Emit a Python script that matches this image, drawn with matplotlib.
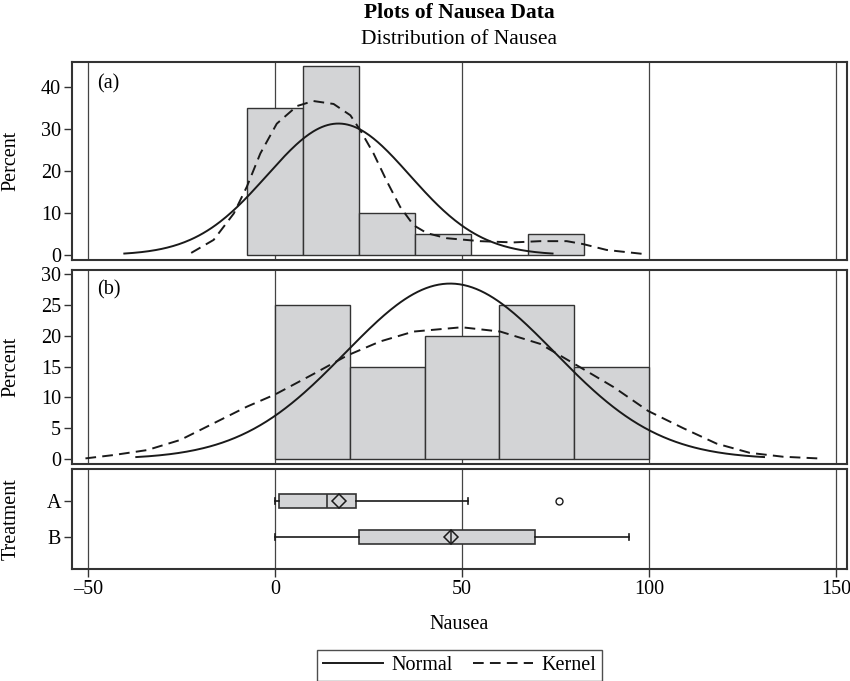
import matplotlib

matplotlib.use("Agg")
import matplotlib.pyplot as plt
import numpy as np
from matplotlib.lines import Line2D

plt.rcParams["font.family"] = "serif"
plt.rcParams["font.serif"] = ["Liberation Serif", "DejaVu Serif"]
plt.rcParams["font.size"] = 14.5

# histogram of treatment A (bin width 15)
a_mids = [0, 15, 30, 45, 60, 75]
a_pct = [35, 45, 10, 5, 0, 5]
a_mean, a_sd = 16.9, 19.1
a_kern_x = [-22.5, -16.5, -11.1, -7.6, -4.0, 0.4, 5.8, 10.2, 15.6, 20.1, 22.7, 26.3,
            29.9, 33.4, 37.0, 40.6, 45.9, 54.8, 63.7, 70.9, 78.0, 82.4, 88.7, 98.5]
a_kern_y = [0.5, 3.6, 9.9, 16.3, 24.2, 31.3, 35.5, 36.7, 36.0, 33.3, 29.8, 24.2,
            17.5, 11.5, 7.1, 5.2, 4.0, 3.3, 3.0, 3.3, 3.3, 2.6, 1.2, 0.25]

# histogram of treatment B (bin width 20)
b_mids = [10, 30, 50, 70, 90]
b_pct = [25, 15, 20, 25, 15]
b_mean, b_sd = 46.8, 28.0
b_kern_x = [-50.8, -43.2, -34.3, -25.4, -16.5, -7.6, 0.0, 10.2, 19.2, 28.1, 37.0,
            49.9, 60.2, 70.9, 81.6, 90.5, 99.8, 109.2, 118.1, 127.0, 135.9, 145.2]
b_kern_y = [0.1, 0.65, 1.45, 3.1, 5.8, 8.5, 10.5, 13.8, 16.8, 19.1, 20.7,
            21.4, 20.7, 18.7, 14.9, 11.7, 7.8, 5.0, 2.5, 1.0, 0.37, 0.1]

# box plot summaries
groups = ["A", "B"]
box_stats = [
    dict(whislo=0.0, q1=1.0, med=13.8, q3=21.6, whishi=51.6, mean=17.0, fliers=[75.8]),
    dict(whislo=0.0, q1=22.5, med=47.0, q3=69.4, whishi=94.6, mean=47.0, fliers=[]),
]

xticks = [-50, 0, 50, 100, 150]

BAR = "#d3d4d6"
EDGE = "#333333"
INK = "#1a1a1a"
DASH = (0, (5.5, 3.2))

fig = plt.figure(figsize=(8.5, 6.81), dpi=100)
L, W = 72 / 850, 775 / 850
ax_a = fig.add_axes([L, 421 / 681, W, 198 / 681])
ax_b = fig.add_axes([L, 217 / 681, W, 194 / 681])
ax_c = fig.add_axes([L, 112 / 681, W, 100 / 681])


def normal_curve(mean, sd, width):
    x = np.linspace(mean - 3 * sd, mean + 3 * sd, 300)
    return x, 100 * width * np.exp(-0.5 * ((x - mean) / sd) ** 2) / (sd * np.sqrt(2 * np.pi))


for ax in (ax_a, ax_b, ax_c):
    ax.set_xlim(-54.4, 153.0)
    for gx in xticks:
        ax.axvline(gx, color="#444444", lw=0.9, zorder=0)
    for s in ax.spines.values():
        s.set_linewidth(1.5)
        s.set_color("#333333")
    ax.tick_params(direction="out", length=6, width=1, color="#333333", pad=2)
    ax.set_xticks(xticks)

ax_a.bar(a_mids, a_pct, width=15, color=BAR, edgecolor=EDGE, lw=1, zorder=2)
xs, ys = normal_curve(a_mean, a_sd, 15)
ax_a.plot(xs, ys, color=INK, lw=1.4, zorder=3)
ax_a.plot(a_kern_x, a_kern_y, color=INK, lw=1.4, ls=DASH, zorder=3)
ax_a.set_ylim(-1.19, 46.0)
ax_a.set_yticks([0, 10, 20, 30, 40])
ax_a.text(0.032, 0.94, "(a)", transform=ax_a.transAxes, va="top", ha="left")

ax_b.bar(b_mids, b_pct, width=20, color=BAR, edgecolor=EDGE, lw=1, zorder=2)
xs, ys = normal_curve(b_mean, b_sd, 20)
ax_b.plot(xs, ys, color=INK, lw=1.4, zorder=3)
ax_b.plot(b_kern_x, b_kern_y, color=INK, lw=1.4, ls=DASH, zorder=3)
ax_b.set_ylim(-0.81, 30.7)
ax_b.set_yticks([0, 5, 10, 15, 20, 25, 30])
ax_b.text(0.032, 0.945, "(b)", transform=ax_b.transAxes, va="top", ha="left")

for ax in (ax_a, ax_b):
    ax.set_ylabel("Percent")
    ax.tick_params(axis="x", bottom=False, labelbottom=False)

ax_c.bxp(box_stats, positions=[0, 1], orientation="horizontal", widths=0.4,
         patch_artist=True, showmeans=True, capwidths=0.17,
         boxprops=dict(facecolor=BAR, edgecolor=EDGE, lw=1.2),
         medianprops=dict(color=EDGE, lw=1.2),
         whiskerprops=dict(color=INK, lw=1.2),
         capprops=dict(color=INK, lw=1.2),
         meanprops=dict(marker="D", markersize=7, markerfacecolor="none",
                        markeredgecolor=INK, markeredgewidth=1.1),
         flierprops=dict(marker="o", markersize=5, markerfacecolor="none",
                         markeredgecolor=INK, markeredgewidth=1))
ax_c.set_yticks([0, 1])
ax_c.set_yticklabels(groups)
ax_c.set_ylim(1.9, -0.9)
ax_c.set_xticks(xticks)
ax_c.set_xticklabels(["\u201350", "0", "50", "100", "150"])
ax_c.set_ylabel("Treatment")
ax_c.set_xlabel("Nausea")
ax_c.xaxis.set_label_coords(0.5, -0.46)

for ax in (ax_a, ax_b, ax_c):
    ax.yaxis.set_label_coords(-0.066, 0.5)

cx = (72 + 775 / 2) / 850
fig.text(cx, 1 - 13 / 681, "Plots of Nausea Data", ha="center", va="center",
         fontweight="bold", fontsize=15.5)
fig.text(cx, 1 - 39 / 681, "Distribution of Nausea", ha="center", va="center",
         fontsize=15.5)

handles = [Line2D([], [], color=INK, lw=1.4),
           Line2D([], [], color=INK, lw=1.4, ls=DASH)]
leg = fig.legend(handles, ["Normal", "Kernel"], loc="lower center",
                 bbox_to_anchor=(cx, 0.0), ncol=2, frameon=True, fancybox=False,
                 edgecolor="#222222", handlelength=3.0, handletextpad=0.4,
                 columnspacing=1.0, borderpad=0.3, borderaxespad=0.0)
leg.get_frame().set_linewidth(1.0)

fig.savefig("out.png", dpi=100)
